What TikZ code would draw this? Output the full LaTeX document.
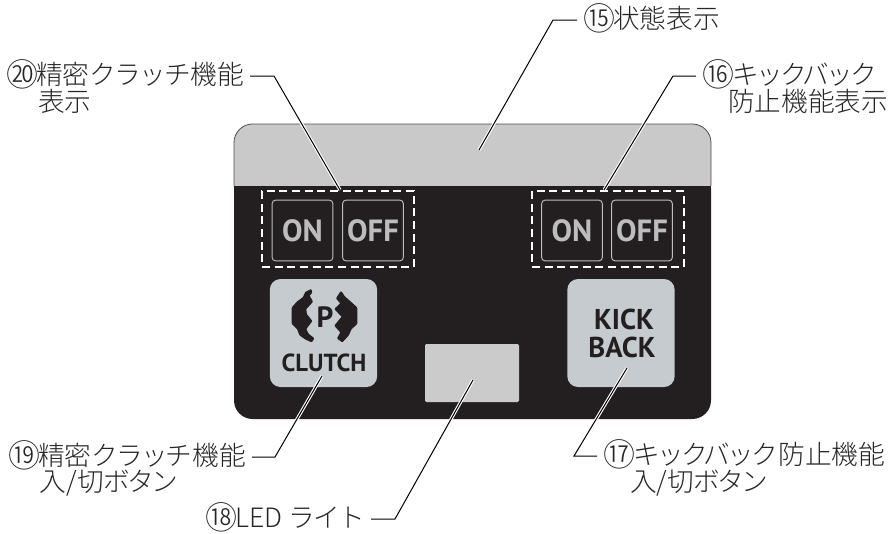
\documentclass[tikz,border=0pt]{standalone}
\usepackage{fontspec}
\setmainfont{Noto Sans CJK JP}[UprightFont=* Light]
\newfontfamily\panelfont{PT Sans}
\newcommand{\cnum}[1]{\raisebox{-1.3pt}{\scalebox{1.2}{#1}}\kern-1.5pt}
\newcommand{\kana}[2][-10]{{\addfontfeature{LetterSpace=#1}#2}}
\definecolor{paneldark}{HTML}{231F20}
\definecolor{panelgrey}{HTML}{C9C9C9}
\definecolor{keygrey}{HTML}{C5CBCE}
\definecolor{ledgrey}{HTML}{CBCBCB}
\definecolor{ongrey}{HTML}{BDBDBD}
\tikzset{
    lab/.style={anchor=west,inner sep=0pt,outer xsep=4.5pt,outer ysep=0pt,text height=15.5pt,text depth=2.5pt,font=\fontsize{20}{20}\selectfont,text=black!85},
    leader/.style={draw=black,line width=0.75pt,preaction={draw=white,line width=2.4pt}},
    onoff/.style={draw=ongrey,line width=0.7pt,rounded corners=2.5pt,minimum width=45.5pt,minimum height=45.5pt,inner sep=0pt,text=ongrey,font=\panelfont\bfseries\fontsize{23}{24}\selectfont},
    dashbox/.style={draw=white,line width=1.5pt,dash pattern=on 6pt off 3.5pt,minimum width=114pt,minimum height=57pt,inner sep=0pt},
    keybtn/.style={fill=keygrey,rounded corners=8pt,minimum width=80.5pt,minimum height=81pt,inner sep=0pt},
    keytext/.style={inner sep=0pt,text=paneldark,font=\panelfont\bfseries},
    clutchmark/.style={fill=paneldark,draw=paneldark,line width=0.9pt,line join=round,rounded corners=0.5pt},
}
\begin{document}
\begin{tikzpicture}[x=0.75pt,y=-0.75pt]
        \useasboundingbox (0,0) rectangle (890,533);
        % panel
        \fill [paneldark,rounded corners=14pt] (234,170) -- (234,419) -- (711,419) -- (711,170) -- cycle;
        \draw [fill=panelgrey,draw=paneldark!80,line width=0.6pt,rounded corners=14pt] (234,186) -- (234,124) -- (711,124) -- (711,186);
        \fill [paneldark] (234,186) rectangle (711,195);
        \node [dashbox] (box20) at (338,229) {};
        \node [dashbox] (box16) at (608,229) {};
        \node [onoff] (on20) at (302.5,230.5) {ON};
        \node [onoff] (off20) at (373,230.5) {OFF};
        \node [onoff] (on16) at (572,230.5) {ON};
        \node [onoff] (off16) at (642,230.5) {OFF};
        \node [keybtn] (btn19) at (323.5,333) {};
        \node [keybtn] (btn17) at (621,333) {};
        \node [fill=ledgrey,rounded corners=1pt,minimum width=70.5pt,minimum height=43.5pt,inner sep=0pt] (led) at (472,373) {};
        % clutch mark
        \begin{scope}[shift={(285,285)},x=0.25pt,y=-0.25pt]
            \draw [clutchmark] (78,14) -- (62,22) -- (55,38) -- (38,50) -- (22,68) -- (22,116) -- (38,132) -- (45,150) -- (62,162) -- (80,170) -- (86,160) -- (70,148) -- (62,132) -- (80,108) -- (64,88) -- (62,72) -- (82,50) -- (72,32) -- (80,22) -- cycle;
            \draw [clutchmark] (168,20) -- (178,35) -- (195,50) -- (215,68) -- (215,116) -- (198,132) -- (190,150) -- (172,170) -- (158,160) -- (168,142) -- (150,122) -- (172,95) -- (150,72) -- (168,55) -- (155,40) -- cycle;
        \end{scope}
        \node [keytext,font=\panelfont\bfseries\fontsize{22}{23}\selectfont] (pmark) at (325,317) {P};
        \node [keytext,font=\panelfont\bfseries\fontsize{18.5}{20}\selectfont] (clutch) at (324,363) {CLUTCH};
        \node [keytext,font=\panelfont\bfseries\fontsize{21.5}{23}\selectfont] (kick) at (624,319) {KICK};
        \node [keytext,font=\panelfont\bfseries\fontsize{21.5}{23}\selectfont] (back) at (622,347) {BACK};
        % labels
        \node [lab] (t15) at (577,20) {\cnum{⑮}状態表示};
        \node [lab] (t16) at (696,76) {\cnum{⑯}\kana{キックバック}};
        \node [lab] (t16b) at (722,103) {防止機能表示};
        \node [lab] (t17) at (597,456) {\cnum{⑰}\kana{キックバック}防止機能};
        \node [lab] (t17b) at (624,483) {入/切\kana{ボタン}};
        \node [lab,anchor=east] (t18) at (371,519) {\cnum{⑱}LED \kana[-7]{ライト}};
        \node [lab,anchor=east] (t19) at (252,457) {\cnum{⑲}精密\kana[-7]{クラッチ}機能};
        \node [lab] (t19b) at (34,483) {入/切\kana{ボタン}};
        \node [lab,anchor=east] (t20) at (250,76) {\cnum{⑳}精密\kana[-7]{クラッチ}機能};
        \node [lab] (t20b) at (32,103) {表示};
        % leaders
        \coordinate (k15) at (553,20);
        \coordinate (e15) at (479,150);
        \coordinate (k16) at (673,76);
        \coordinate (e16) at (604,190);
        \coordinate (k17) at (574,456);
        \coordinate (e17) at (627,368);
        \coordinate (k18) at (395,519);
        \coordinate (e18) at (473,380);
        \coordinate (k19) at (275,457);
        \coordinate (e19) at (322,376);
        \coordinate (k20) at (274,76);
        \coordinate (e20) at (340,190);
        \draw [leader] (t15.west) -- (k15) -- (e15);
        \draw [leader] (t16.west) -- (k16) -- (e16);
        \draw [leader] (t17.west) -- (k17) -- (e17);
        \draw [leader] (t18.east) -- (k18) -- (e18);
        \draw [leader] (t19.east) -- (k19) -- (e19);
        \draw [leader] (t20.east) -- (k20) -- (e20);
    \end{tikzpicture}
\end{document}
